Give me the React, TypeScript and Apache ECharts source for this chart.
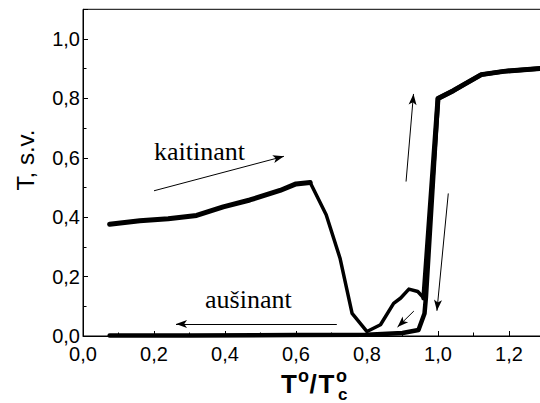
import React, { useEffect, useRef } from 'react';
import * as echarts from 'echarts';

// Heating branch ("kaitinant")
const heatingFlat: [number, number][] = [
  [0.075, 0.376], [0.16, 0.388], [0.24, 0.395], [0.32, 0.406], [0.395, 0.435],
  [0.47, 0.458], [0.555, 0.49], [0.6, 0.512], [0.64, 0.517],
];
const heatingDrop: [number, number][] = [
  [0.64, 0.517], [0.685, 0.408], [0.724, 0.262], [0.758, 0.076], [0.8, 0.015],
  [0.838, 0.038], [0.875, 0.11], [0.895, 0.128], [0.918, 0.158], [0.943, 0.15], [0.96, 0.128],
];
const heatingJump: [number, number][] = [
  [0.96, 0.128], [1.0, 0.8], [1.043, 0.826], [1.075, 0.848], [1.122, 0.88],
  [1.185, 0.891], [1.3, 0.902],
];
// Cooling branch ("aušinant")
const cooling: [number, number][] = [
  [1.3, 0.902], [1.185, 0.891], [1.122, 0.88], [1.075, 0.848], [1.043, 0.826],
  [1.0, 0.8], [0.966, 0.13], [0.962, 0.076], [0.945, 0.02], [0.9, 0.01],
  [0.8, 0.004], [0.6, 0.003], [0.3, 0.002], [0.075, 0.002],
];
// Annotation arrows: [from, to]
const arrows: [[number, number], [number, number]][] = [
  [[0.2, 0.489], [0.566, 0.605]],
  [[0.715, 0.04], [0.262, 0.04]],
  [[0.91, 0.52], [0.931, 0.815]],
  [[1.029, 0.48], [0.997, 0.085]],
  [[0.932, 0.084], [0.886, 0.03]],
];

const X_MIN = 0, X_MAX = 1.3, X_MAJOR = 0.2, X_MINOR = 0.1;
const Y_MIN = 0, Y_MAX = 1.1, Y_MAJOR = 0.2, Y_MINOR = 0.1;

const SANS = '"Liberation Sans", Arial, sans-serif';
const SERIF = '"Liberation Serif", "Times New Roman", serif';

const fmt = (v: number) => {
  const k = Math.round(v * 10);
  return k % 2 === 0 ? (k / 10).toFixed(1).replace('.', ',') : '';
};

export default function App() {
  const ref = useRef<HTMLDivElement>(null);
  useEffect(() => {
    document.body.style.margin = '0';
    if (!ref.current) return;
    const chart = echarts.init(ref.current, null, { renderer: 'svg' });
    const black = '#000';
    const lineSeries = (data: [number, number][], width: number, extra: any = {}) => ({
      type: 'line',
      data,
      xAxisIndex: 0,
      yAxisIndex: 0,
      symbol: 'none',
      silent: true,
      lineStyle: { color: black, width, join: 'round', cap: 'round' },
      ...extra,
    });
    chart.setOption({
      animation: false,
      grid: {
        left: 83, right: -4.5, top: 9.3, bottom: 67,
        show: true, borderColor: black, borderWidth: 1,
        containLabel: false, outerBoundsMode: 'none',
      },
      xAxis: [
        {
          type: 'value', min: X_MIN, max: X_MAX, interval: X_MAJOR, position: 'bottom',
          axisLine: { show: true, onZero: false, lineStyle: { color: black, width: 1 } },
          axisTick: { show: true, inside: true, length: 5, lineStyle: { color: black, width: 1 } },
          axisLabel: { formatter: fmt, color: black, fontSize: 20, fontFamily: SANS, margin: 8 },
          splitLine: { show: false },
        },
        {
          type: 'value', min: X_MIN, max: X_MAX, interval: X_MINOR, position: 'bottom',
          axisLine: { show: false },
          axisTick: { show: true, inside: true, length: 3.5, lineStyle: { color: black, width: 1 } },
          axisLabel: { show: false },
          splitLine: { show: false },
        },
      ],
      yAxis: [
        {
          type: 'value', min: Y_MIN, max: Y_MAX, interval: Y_MAJOR, position: 'left',
          axisLine: { show: true, onZero: false, lineStyle: { color: black, width: 1 } },
          axisTick: { show: true, inside: true, length: 5, lineStyle: { color: black, width: 1 } },
          axisLabel: { formatter: fmt, color: black, fontSize: 20, fontFamily: SANS, margin: 3 },
          splitLine: { show: false },
        },
        {
          type: 'value', min: Y_MIN, max: Y_MAX, interval: Y_MINOR, position: 'left',
          axisLine: { show: false },
          axisTick: { show: true, inside: true, length: 3.5, lineStyle: { color: black, width: 1 } },
          axisLabel: { show: false },
          splitLine: { show: false },
        },
      ],
      series: [
        lineSeries(heatingFlat, 5),
        lineSeries(heatingDrop, 3.5),
        lineSeries(heatingJump, 5),
        lineSeries(cooling, 4.5, {
          markLine: {
            silent: true,
            symbol: ['none', 'arrow'],
            symbolSize: [6, 11],
            label: { show: false },
            emphasis: { disabled: true },
            lineStyle: { color: black, width: 1, type: 'solid' },
            data: arrows.map(([a, b]) => [{ coord: a }, { coord: b }]),
          },
        }),
      ],
      graphic: [
        { type: 'text', x: 154, y: 151, style: { text: 'kaitinant', fill: black, font: `26px ${SERIF}`, align: 'left', verticalAlign: 'middle' } },
        { type: 'text', x: 205, y: 299, style: { text: 'aušinant', fill: black, font: `26px ${SERIF}`, align: 'left', verticalAlign: 'middle' } },
        { type: 'text', x: 25, y: 160, rotation: Math.PI / 2, style: { text: 'T, s.v.', fill: black, font: `24px ${SANS}`, align: 'center', verticalAlign: 'middle' } },
        { type: 'text', x: 281, y: 384, style: { text: 'T', fill: black, font: `bold 26px ${SANS}`, align: 'left', verticalAlign: 'middle' } },
        { type: 'text', x: 298, y: 376, style: { text: 'o', fill: black, font: `bold 18px ${SANS}`, align: 'left', verticalAlign: 'middle' } },
        { type: 'text', x: 309.5, y: 384, style: { text: '/', fill: black, font: `bold 26px ${SANS}`, align: 'left', verticalAlign: 'middle' } },
        { type: 'text', x: 318.5, y: 384, style: { text: 'T', fill: black, font: `bold 26px ${SANS}`, align: 'left', verticalAlign: 'middle' } },
        { type: 'text', x: 336, y: 376, style: { text: 'o', fill: black, font: `bold 18px ${SANS}`, align: 'left', verticalAlign: 'middle' } },
        { type: 'text', x: 338, y: 394, style: { text: 'c', fill: black, font: `bold 17px ${SANS}`, align: 'left', verticalAlign: 'middle' } },
      ],
    });
    return () => chart.dispose();
  }, []);
  return <div ref={ref} style={{ width: 540, height: 403, overflow: 'hidden' }} />;
}
